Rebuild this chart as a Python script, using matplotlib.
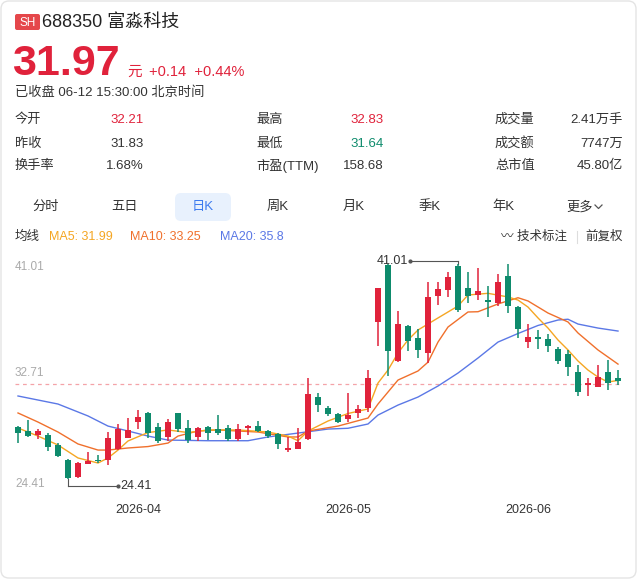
import numpy as np
import matplotlib.pyplot as plt
from matplotlib.patches import FancyBboxPatch

plt.rcParams['font.family'] = ['Liberation Sans', 'Noto Sans CJK SC', 'DejaVu Sans']

# daily candles (index 0 .. 60)
opens = [28.42, 28.09, 27.76, 27.76, 27.03, 25.85, 24.56, 25.57, 25.83, 25.85,
         26.72, 27.57, 28.81, 29.50, 28.42, 27.65, 29.45, 28.34, 27.65, 28.42,
         28.22, 28.30, 27.45, 28.30, 28.50, 28.11, 27.83, 26.62, 26.72, 27.45,
         30.69, 29.86, 29.40, 28.99, 29.50, 29.84, 36.52, 40.89, 33.49, 36.19,
         35.29, 34.07, 38.50, 38.97, 40.84, 39.10, 38.58, 38.19, 37.94, 40.05,
         37.68, 34.93, 35.32, 35.16, 34.44, 34.01, 32.62, 31.64, 31.51, 32.62, 32.21]
closes = [27.96, 27.70, 28.09, 26.83, 26.18, 24.45, 25.60, 25.80, 25.75, 27.57,
          28.22, 28.14, 29.15, 27.91, 27.34, 28.78, 28.22, 27.39, 28.30, 27.91,
          27.91, 27.45, 28.24, 28.50, 28.11, 27.70, 27.09, 26.80, 27.24, 30.92,
          30.07, 29.40, 28.81, 29.32, 29.81, 32.20, 39.10, 34.26, 36.34, 35.03,
          34.34, 38.46, 39.04, 39.99, 37.42, 38.50, 38.89, 38.02, 39.56, 37.75,
          35.96, 35.36, 35.19, 34.65, 33.49, 33.00, 31.12, 31.81, 32.28, 31.83, 31.97]
highs = [28.47, 28.94, 28.22, 27.96, 27.14, 25.90, 25.70, 26.49, 26.24, 28.04,
         28.63, 29.07, 29.71, 29.52, 28.68, 28.99, 29.47, 28.94, 28.42, 28.44,
         29.32, 28.55, 28.63, 28.52, 28.88, 28.16, 27.96, 27.65, 28.30, 32.15,
         31.04, 30.01, 29.45, 31.04, 30.09, 32.79, 39.10, 40.95, 37.35, 36.25,
         35.98, 39.58, 39.61, 40.33, 41.01, 40.33, 40.64, 39.27, 40.18, 40.97,
         37.70, 36.34, 35.88, 35.55, 34.59, 34.34, 33.18, 32.15, 33.18, 33.57, 32.83]
lows = [27.19, 27.65, 27.45, 26.57, 26.11, 24.41, 24.45, 25.52, 25.60, 25.44,
        26.62, 27.53, 28.22, 27.53, 27.19, 27.32, 28.04, 27.14, 27.32, 27.39,
        27.78, 27.34, 27.34, 27.78, 28.04, 27.53, 26.70, 26.49, 26.68, 27.40,
        29.58, 29.27, 28.68, 28.81, 29.07, 29.53, 34.67, 32.37, 33.45, 34.26,
        33.72, 33.31, 37.81, 38.45, 37.29, 37.94, 38.19, 36.91, 37.73, 37.17,
        35.24, 34.47, 34.41, 34.16, 33.23, 32.33, 30.81, 30.79, 31.46, 31.25, 31.64]

# moving averages
ma5_idx = [0, 2, 4, 6, 8, 9, 10, 11, 13, 15, 17, 19, 22, 25, 27, 28, 29, 31, 33, 35,
           36, 37, 38, 39, 40, 42, 44, 45, 47, 49, 50, 51, 52, 53, 54, 55, 56, 57, 58, 59, 60]
ma5_val = [28.32, 27.70, 27.01, 26.01, 25.62, 26.01, 26.62, 27.32, 27.97, 28.17, 27.97,
           28.17, 28.17, 28.01, 27.70, 27.34, 28.09, 28.86, 29.44, 29.79,
           31.79, 32.79, 34.11, 35.11, 35.88, 36.81, 37.73, 38.58, 38.71, 38.43,
           38.19, 37.65, 36.81, 36.03, 35.11, 34.34, 33.49, 32.79, 32.25, 31.87, 31.99]
ma10_idx = [0, 2, 4, 6, 8, 9, 11, 13, 15, 16, 18, 20, 24, 27, 28, 29, 32, 35, 36, 38,
            40, 41, 42, 43, 45, 46, 48, 50, 51, 53, 55, 56, 58, 60]
ma10_val = [29.48, 28.78, 28.01, 27.09, 26.62, 26.62, 26.78, 26.89, 27.16, 27.70, 28.09,
            28.17, 28.01, 27.63, 27.63, 28.09, 28.47, 29.09, 30.17, 32.02,
            32.72, 33.40, 34.95, 36.11, 37.27, 37.29, 37.89, 38.37, 38.12, 37.19,
            36.50, 35.65, 34.34, 33.25]
ma20_idx = [0, 4, 7, 9, 11, 13, 15, 19, 23, 25, 28, 31, 33, 35, 36, 38, 40, 42, 44,
            46, 48, 50, 52, 54, 55, 56, 58, 60]
ma20_val = [30.79, 30.17, 29.25, 28.47, 28.09, 27.70, 27.39, 27.34, 27.34, 27.63, 27.93,
            28.24, 28.30, 28.63, 29.32, 30.09, 30.71, 31.56, 32.56, 33.72, 34.95,
            35.61, 36.23, 36.65, 36.71, 36.34, 36.03, 35.80]

month_idx = [12, 33, 51]
month_labels = ['2026-04', '2026-05', '2026-06']

RED = '#E0223B'
GREEN = '#0E8B6C'
C_MA5 = '#F5A623'
C_MA10 = '#F0702C'
C_MA20 = '#5B78E6'

W, H = 638, 580
fig = plt.figure(figsize=(6.38, 5.8), dpi=100)
fig.patch.set_facecolor('white')


def fx(x):
    return x / W


def fy(y):
    return 1 - y / H


def txt(x, y, s, size=9.5, color='#333333', ha='left', va='center', **kw):
    return fig.text(fx(x), fy(y), s, fontsize=size, color=color, ha=ha, va=va, **kw)


# card border
bg = fig.add_axes([0, 0, 1, 1])
bg.set_xlim(0, W)
bg.set_ylim(H, 0)
bg.axis('off')
bg.add_patch(FancyBboxPatch((1, 1), W - 3, H - 3, boxstyle='round,pad=0,rounding_size=8',
                            fc='white', ec='#E4E4E4', lw=1))
# SH badge
bg.add_patch(FancyBboxPatch((15, 14), 25, 16, boxstyle='round,pad=0,rounding_size=2',
                            fc='#E5474B', ec='none'))
txt(27.5, 22.5, 'SH', size=8.5, color='white', ha='center')
txt(42, 22, '688350 富淼科技', size=13, color='#222222')

txt(12, 64, '31.97', size=31, color=RED, weight='bold')
txt(127, 72, '元', size=10.5, color=RED)
txt(149, 72, '+0.14  +0.44%', size=10.5, color=RED)
txt(15, 93, '已收盘 06-12 15:30:00 北京时间', size=9.5, color='#333333')

# stats table
rows_y = [120, 144, 166]
stats = [
    [('今开', '32.21', RED), ('最高', '32.83', RED), ('成交量', '2.41万手', '#333333')],
    [('昨收', '31.83', '#333333'), ('最低', '31.64', GREEN), ('成交额', '7747万', '#333333')],
    [('换手率', '1.68%', '#333333'), ('市盈(TTM)', '158.68', '#333333'), ('总市值', '45.80亿', '#333333')],
]
col_lbl = [15, 256, 495]
col_val = [144, 384, 623]
for r, y in enumerate(rows_y):
    for c in range(3):
        lbl, val, col = stats[r][c]
        txt(col_lbl[c], y, lbl, size=9.5)
        txt(col_val[c], y, val, size=9.5, color=col, ha='right')

# tabs
bg.add_patch(FancyBboxPatch((175, 193), 56, 28, boxstyle='round,pad=0,rounding_size=6',
                            fc='#E8F1FD', ec='none'))
tabs = ['分时', '五日', '日K', '周K', '月K', '季K', '年K', '更多']
tab_x = [46, 125, 203, 278, 354, 430, 503, 580]
for t, x in zip(tabs, tab_x):
    txt(x, 207, t, size=9.5, color='#3D7BEF' if t == '日K' else '#333333', ha='center')
bg.plot([595, 598.5, 602], [205, 208.5, 205], color='#555555', lw=0.9)

# MA legend
txt(15, 237, '均线', size=9)
txt(49, 237, 'MA5: 31.99', size=9, color=C_MA5)
txt(130, 237, 'MA10: 33.25', size=9, color=C_MA10)
txt(220, 237, 'MA20: 35.8', size=9, color=C_MA20)
txt(567, 237, '〰 技术标注', size=9, ha='right')
bg.plot([577, 577], [231, 243], color='#DDDDDD', lw=0.8)
txt(623, 237, '前复权', size=9, ha='right')

# chart area
hi, lo = max(highs), min(lows)
span = hi - lo
ax = fig.add_axes([fx(15), fy(495), fx(622) - fx(15), fy(255) - fy(495)])
ax.set_xlim(-0.3, 60.4)
ax.set_ylim(lo - span * 0.0757, hi + span * 0.0395)
ax.axis('off')

idx = np.arange(len(opens))
o = np.array(opens)
c = np.array(closes)
colors = [RED if cc >= oo else GREEN for oo, cc in zip(o, c)]
ax.vlines(idx, lows, highs, colors=colors, lw=1.1, zorder=3)
body = np.maximum(np.abs(c - o), 0.08)
ax.bar(idx, body, bottom=np.minimum(o, c), width=0.68, color=colors, zorder=4)

ax.plot(ma20_idx, ma20_val, color=C_MA20, lw=1, zorder=2)
ax.plot(ma10_idx, ma10_val, color=C_MA10, lw=1, zorder=2)
ax.plot(ma5_idx, ma5_val, color=C_MA5, lw=1, zorder=2)

ax.axhline(closes[-1] - 0.25, color='#F4A3A8', lw=0.9, ls=(0, (3, 3)), zorder=1)

# max / min markers
i_hi = int(np.argmax(highs))
i_lo = int(np.argmin(lows))
ax.plot([i_hi, i_hi], [hi, hi + 0.2], color='#555555', lw=0.8)
ax.plot([i_hi - 4.8, i_hi], [hi + 0.2, hi + 0.2], color='#555555', lw=0.8)
ax.plot([i_hi - 4.8], [hi + 0.2], marker='o', ms=2, color='#555555')
ax.text(i_hi - 5.0, hi + 0.2, f'{hi:.2f}', ha='right', va='center', fontsize=9, color='#333333')
ax.plot([i_lo, i_lo], [lo, lo - 0.6], color='#555555', lw=0.8)
ax.plot([i_lo, i_lo + 5.0], [lo - 0.6, lo - 0.6], color='#555555', lw=0.8)
ax.plot([i_lo + 5.0], [lo - 0.6], marker='o', ms=2, color='#555555')
ax.text(i_lo + 5.2, lo - 0.6, f'{lo:.2f}', ha='left', va='center', fontsize=9, color='#333333')

# y labels (max / mid / min)
txt(15, 267, f'{hi:.2f}', size=8.5, color='#AAAAAA')
txt(15, 373, f'{(hi + lo) / 2:.2f}', size=8.5, color='#AAAAAA')
txt(15, 484, f'{lo:.2f}', size=8.5, color='#AAAAAA')

# month labels
for i, lab in zip(month_idx, month_labels):
    x_px = 18 + i * 10
    txt(x_px, 510, lab, size=9, ha='center')

fig.savefig('out.png', dpi=100, facecolor='white')
